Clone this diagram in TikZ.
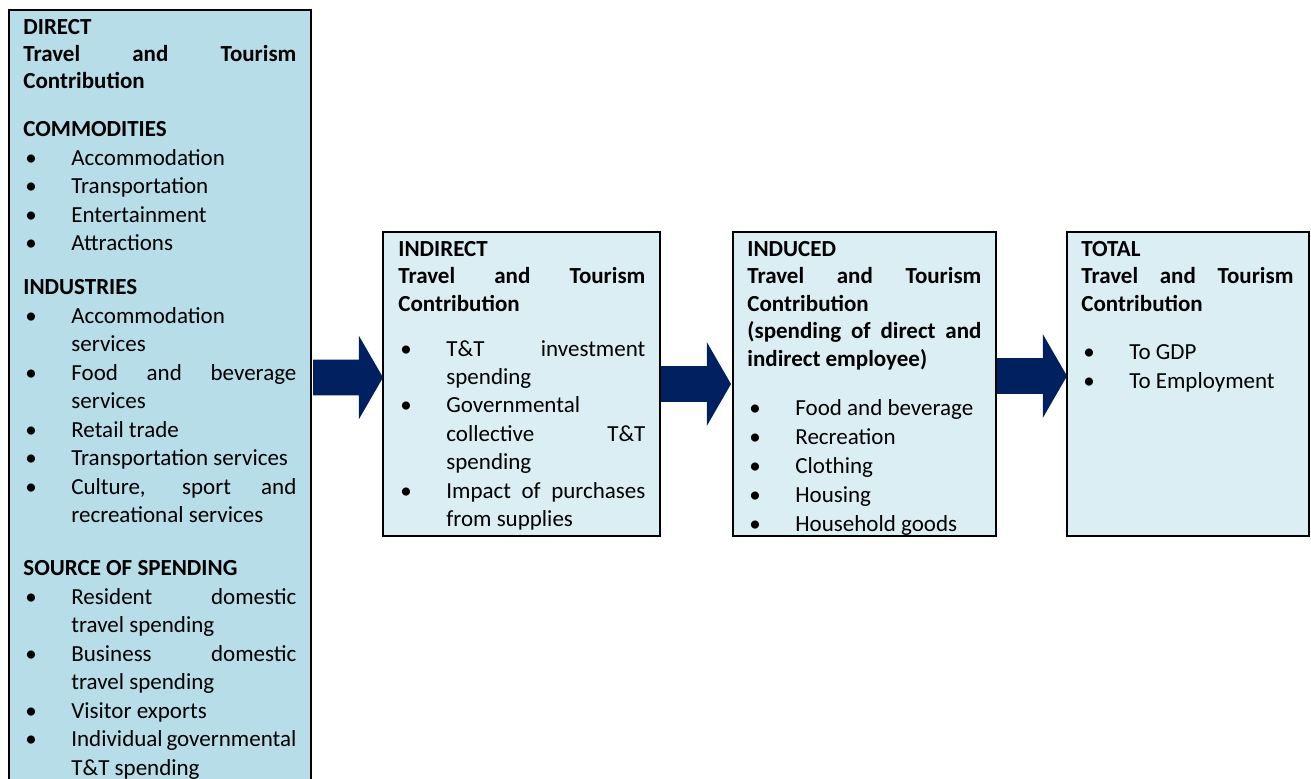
\documentclass[tikz,border=0pt]{standalone}
\usepackage{fontspec}
\setmainfont{Carlito}
\usetikzlibrary{positioning}
\usetikzlibrary{shapes.arrows}

\definecolor{directfill}{HTML}{B7DDE8}
\definecolor{stagefill}{HTML}{DAEEF3}
\definecolor{arrownavy}{HTML}{002060}

\setlength{\parindent}{0pt}
\hyphenpenalty=10000
\exhyphenpenalty=10000
\tolerance=10000
\hbadness=10000

%bullet item with hanging indent
\newcommand{\bitem}[1]{\par\noindent\hangindent=24pt\hangafter=1%
  \makebox[24pt][l]{\hspace{1pt}\textbullet}#1}

\begin{document}
\begin{tikzpicture}[x=0.5pt, y=-0.5pt]
    \tikzset{
      stagebox/.style={draw=black, line width=0.8pt, fill=stagefill, inner sep=0pt,
        outer sep=0pt, minimum height=152pt},
      stagetext/.style={inner sep=0pt, align=justify,
        font=\fontsize{11.5pt}{14.2pt}\selectfont},
      stagearrow/.style={single arrow, fill=arrownavy, inner xsep=0pt, inner ysep=8.75pt,
        outer sep=0pt, minimum height=35pt, single arrow head extend=12pt,
        single arrow tip angle=120, single arrow head indent=0pt, anchor=tip}
    }
    \useasboundingbox (0,0) rectangle (1311,778);

    %Boxes
    \node[stagebox, fill=directfill, line width=1pt, minimum width=151pt,
      minimum height=400pt, anchor=north west] (direct) at (9,10) {};
    \node[stagebox, minimum width=138.5pt, anchor=north west] (indirect) at (383,232) {};
    \node[stagebox, minimum width=131.5pt, right=36.5pt of indirect] (induced) {};
    \node[stagebox, minimum width=121pt, right=35.5pt of induced] (total) {};

    %Direct
    \node[stagetext, text width=136.5pt, below right=4.3pt and 7pt of direct.north west,
      font=\fontsize{11.5pt}{14.25pt}\selectfont] (directtxt) {%
      {\bfseries\fontsize{11.5pt}{13.6pt}\selectfont DIRECT\par
        Travel and Tourism\linebreak Contribution\par}
      \vspace{9.8pt}
      {\bfseries COMMODITIES\par}
      \bitem{Accommodation}
      \bitem{Transportation}
      \bitem{Entertainment}
      \bitem{Attractions}\par
      \vspace{7.8pt}
      {\bfseries INDUSTRIES\par}
      \bitem{Accommodation\linebreak services}
      \bitem{Food and beverage\linebreak services}
      \bitem{Retail trade}
      \bitem{Transportation services}
      \bitem{Culture, sport and\linebreak recreational services}\par
      \vspace{12.3pt}
      {\bfseries SOURCE OF SPENDING\par}
      \bitem{Resident domestic\linebreak travel spending}
      \bitem{Business domestic\linebreak travel spending}
      \bitem{Visitor exports}
      \bitem{Individual governmental\linebreak T\&T spending}\par};

    %Indirect
    \node[stagetext, text width=123.5pt, below right=4.3pt and 7.5pt of indirect.north west] (indirecttxt) {%
      {\bfseries\fontsize{11.5pt}{13.75pt}\selectfont INDIRECT\par
        Travel and Tourism\linebreak Contribution\par}
      \vspace{8.3pt}
      \bitem{T\&T investment\linebreak spending}
      \bitem{Governmental\linebreak collective T\&T\linebreak spending}
      \bitem{Impact of purchases\linebreak from supplies}\par};

    %Induced
    \node[stagetext, text width=117pt, below right=4.3pt and 7pt of induced.north west,
      font=\fontsize{11.5pt}{14.5pt}\selectfont] (inducedtxt) {%
      {\bfseries\fontsize{11.5pt}{13.75pt}\selectfont INDUCED\par
        Travel and Tourism\linebreak Contribution\par
        (spending of direct and\linebreak indirect employee)\par}
      \vspace{10pt}
      \bitem{Food and beverage}
      \bitem{Recreation}
      \bitem{Clothing}
      \bitem{Housing}
      \bitem{Household goods}\par};

    %Total
    \node[stagetext, text width=106pt, below right=4.3pt and 7pt of total.north west] (totaltxt) {%
      {\bfseries\fontsize{11.5pt}{13.75pt}\selectfont TOTAL\par
        Travel and Tourism\linebreak Contribution\par}
      \vspace{10.2pt}
      \bitem{To GDP}
      \bitem{To Employment}\par};

    %Arrows
    \node[stagearrow] (arrowone) at ([yshift=3.25pt]indirect.west) {};
    \node[stagearrow] (arrowtwo) at ([xshift=-1pt]induced.west) {};
    \node[stagearrow] (arrowthree) at ([yshift=4pt]total.west) {};
\end{tikzpicture}
\end{document}
